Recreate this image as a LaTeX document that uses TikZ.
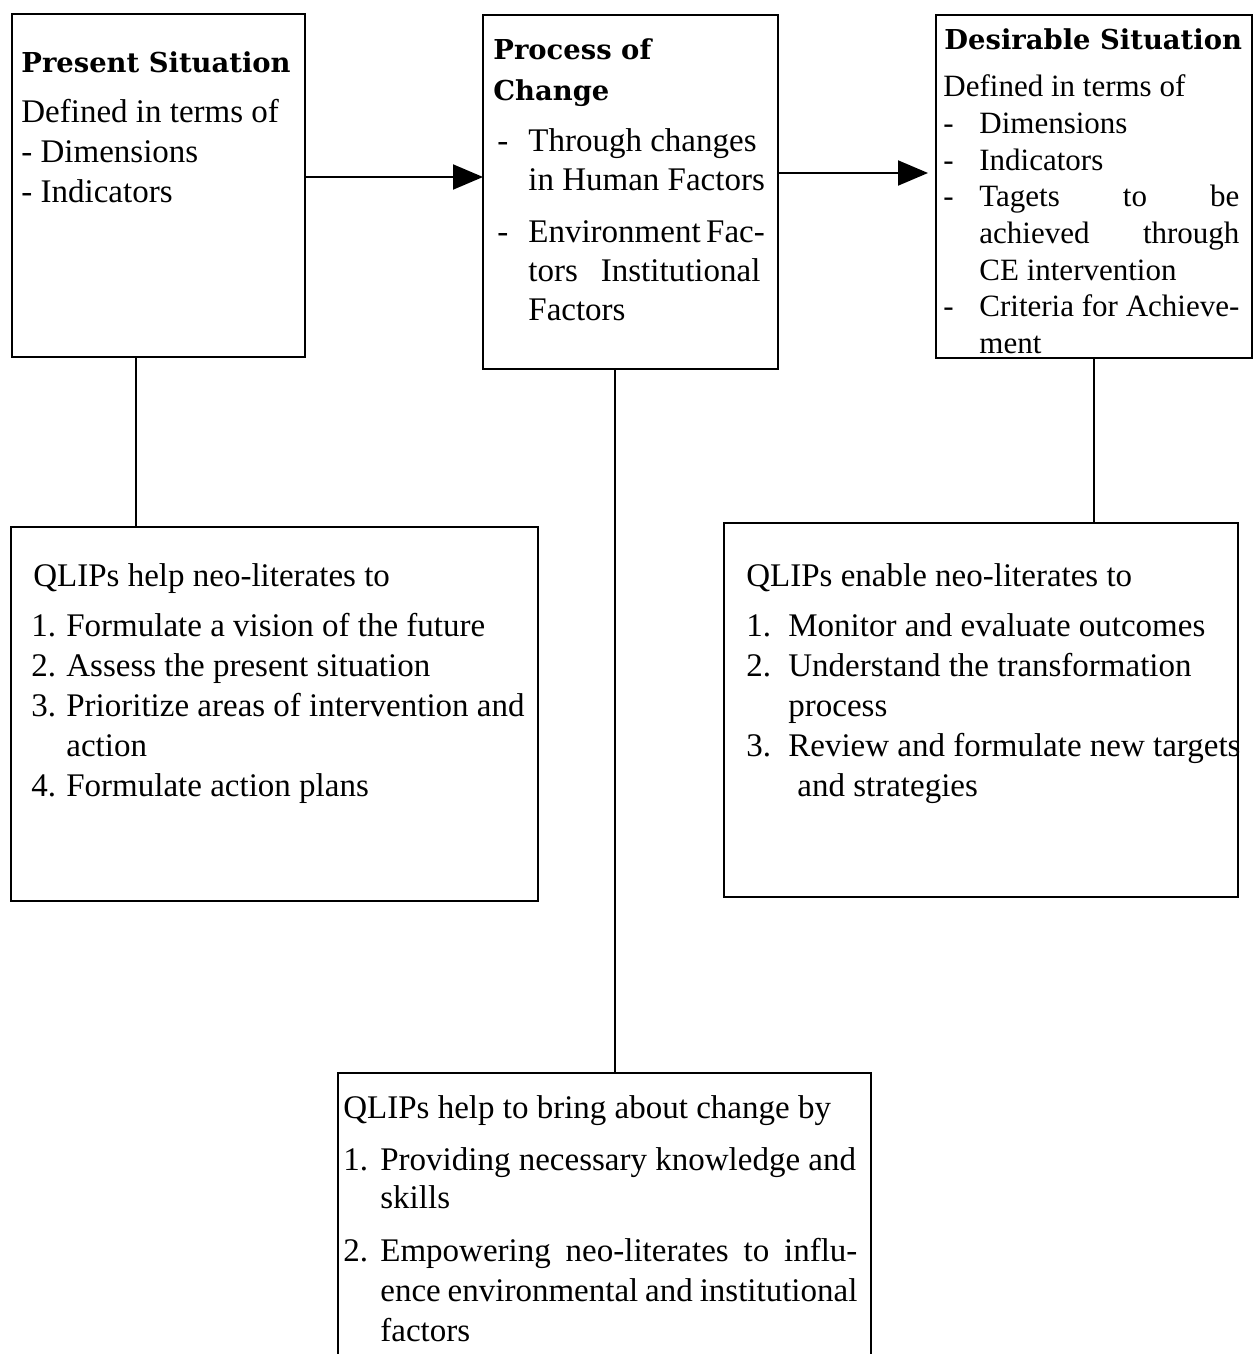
\documentclass[tikz,border=0pt]{standalone}
\usepackage{fontspec}
\setmainfont{Liberation Serif}
\newfontfamily\headfamily{DejaVu Serif}
\usetikzlibrary{arrows.meta}
% a line whose spaces stretch to a given width
\newcommand{\justline}[2]{\makebox[#1][s]{#2}}
% a list label set in a box of fixed width
\newcommand{\lbl}[2]{\makebox[#1][l]{#2}}

\begin{document}
\begin{tikzpicture}[x=0.5pt,y=-0.5pt,
  frame/.style={draw=black, line width=0.8pt, inner sep=0pt, outer sep=0pt, anchor=north west},
  head/.style={anchor=base west, inner sep=0pt, font=\headfamily\bfseries\fontsize{13.7}{20.5}\selectfont},
  body/.style={anchor=base west, inner sep=0pt, font=\fontsize{16.5}{20}\selectfont},
  link/.style={line width=1pt},
  arrow/.style={line width=1pt, -{Triangle[length=15pt,width=12.5pt]}}]

\useasboundingbox (0,0) rectangle (1256,1354);

% ---- upper row ----
\node[frame, minimum width=146.5pt, minimum height=171.5pt] (present) at (12,14) {};
\node[frame, minimum width=147.5pt, minimum height=177pt] (change) at (483,15) {};
\node[frame, minimum width=158pt, minimum height=171.5pt] (desired) at (936,15) {};

% ---- lower boxes ----
\node[frame, minimum width=263.5pt, minimum height=187pt] (helpbox) at (11,527) {};
\node[frame, minimum width=257pt, minimum height=187pt] (enablebox) at (724,523) {};
\node[frame, minimum width=266.5pt, minimum height=163.5pt] (bringbox) at (338,1073) {};

% ---- Present Situation ----
\node[head] (present-title) at (21,73) {Present Situation};
\node[body] (present-text) at (21,122.7) {\begin{tabular}[t]{@{}l@{}}
Defined in terms of\\
- Dimensions\\
- Indicators
\end{tabular}};

% ---- Process of Change ----
\node[head] (change-title) at (493,60) {\begin{tabular}[t]{@{}l@{}}
Process of\\
Change
\end{tabular}};
\node[body, font=\fontsize{16.5}{19.5}\selectfont] (change-text) at (497,151.7) {\begin{tabular}[t]{@{}l@{}}
\lbl{15.5pt}{-}Through changes\\
\hspace*{15.5pt}in Human Factors\\[6.5pt]
\lbl{15.5pt}{-}\justline{116pt}{Environment Fac-}\\
\hspace*{15.5pt}\justline{116pt}{tors Institutional}\\
\hspace*{15.5pt}Factors
\end{tabular}};

% ---- Desirable Situation ----
\node[head] (desired-title) at (944,50) {Desirable Situation};
\node[body, font=\fontsize{15.5}{18.33}\selectfont] (desired-text) at (943,96.7) {\begin{tabular}[t]{@{}l@{}}
Defined in terms of\\
\lbl{18pt}{-}Dimensions\\
\lbl{18pt}{-}Indicators\\
\lbl{18pt}{-}\justline{130pt}{Tagets to be}\\
\hspace*{18pt}\justline{130pt}{achieved through}\\
\hspace*{18pt}CE intervention\\
\lbl{18pt}{-}Criteria for Achieve-\\
\hspace*{18pt}ment
\end{tabular}};

% ---- QLIPs help neo-literates ----
\node[body] (help-text) at (31,586) {\begin{tabular}[t]{@{}l@{}}
\hspace*{1pt}QLIPs help neo-literates to\\[5pt]
\lbl{17.5pt}{1.}Formulate a vision of the future\\
\lbl{17.5pt}{2.}Assess the present situation\\
\lbl{17.5pt}{3.}Prioritize areas of intervention and\\
\hspace*{17.5pt}action\\
\lbl{17.5pt}{4.}Formulate action plans
\end{tabular}};

% ---- QLIPs enable neo-literates ----
\node[body] (enable-text) at (746,586) {\begin{tabular}[t]{@{}l@{}}
QLIPs enable neo-literates to\\[5pt]
\lbl{21pt}{1.}Monitor and evaluate outcomes\\
\lbl{21pt}{2.}Understand the transformation\\
\hspace*{21pt}process\\
\lbl{21pt}{3.}Review and formulate new targets\\
\hspace*{25.5pt}and strategies
\end{tabular}};

% ---- QLIPs help to bring about change ----
\node[body] (bring-text) at (343,1118) {\begin{tabular}[t]{@{}l@{}}
QLIPs help to bring about change by\\[6pt]
\lbl{18.5pt}{1.}Providing necessary knowledge and\\[-1pt]
\hspace*{18.5pt}skills\\[6.5pt]
\lbl{18.5pt}{2.}\justline{238.5pt}{Empowering neo-literates to influ-}\\
\hspace*{18.5pt}\justline{238.5pt}{ence environmental and institutional}\\
\hspace*{18.5pt}factors
\end{tabular}};

% ---- connectors ----
\draw[arrow] (present.east |- 0,177) -- (change.west |- 0,177);
\draw[arrow] (change.east |- 0,173) -- ([xshift=-4pt]desired.west |- 0,173);
\draw[link] (present.south -| 136,0) -- (helpbox.north -| 136,0);
\draw[link] (change.south -| 615,0) -- (bringbox.north -| 615,0);
\draw[link] (desired.south -| 1094,0) -- (enablebox.north -| 1094,0);

\end{tikzpicture}
\end{document}
